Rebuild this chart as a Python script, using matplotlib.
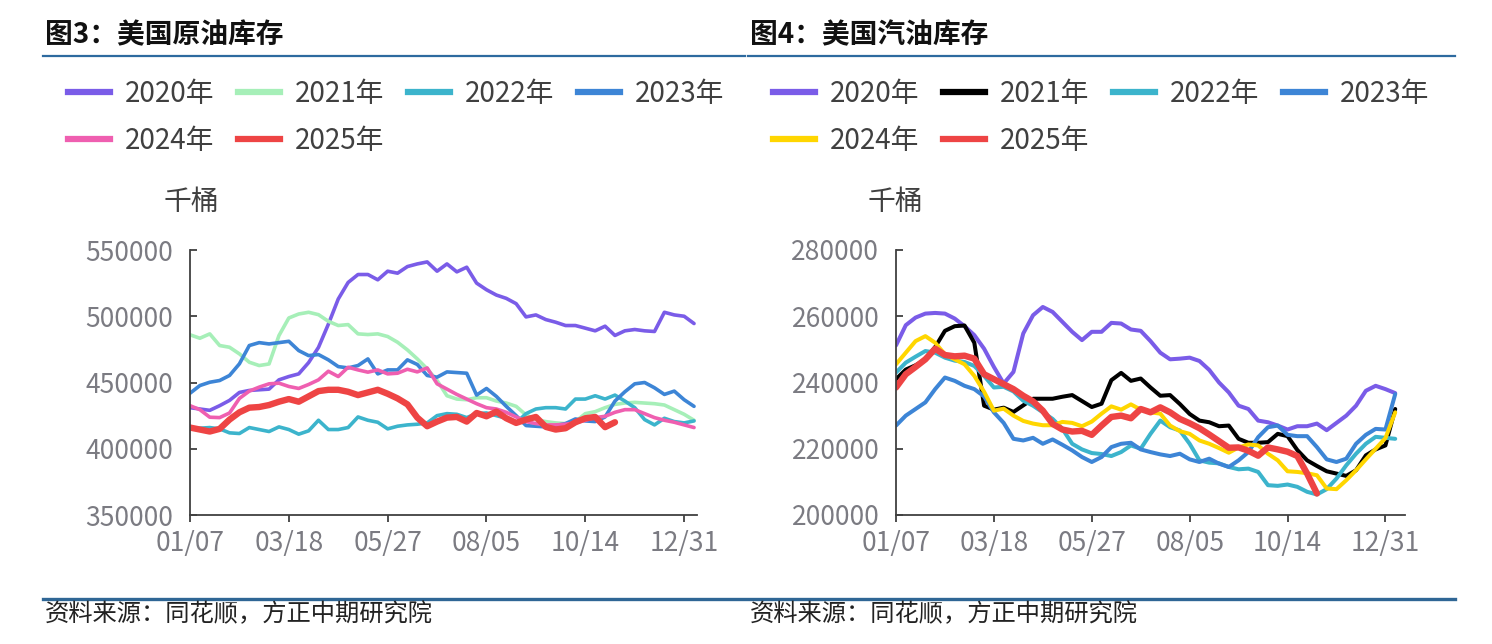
import matplotlib

matplotlib.use("Agg")
import matplotlib.pyplot as plt
from matplotlib.lines import Line2D
import numpy as np

plt.rcParams["font.family"] = ["Noto Sans CJK SC", "DejaVu Sans"]

W, H = 1492, 644

# weekly x axis, ticks every 10 weeks
tick_pos = [0, 10, 20, 30, 40, 50]
tick_labels = ["01/07", "03/18", "05/27", "08/05", "10/14", "12/31"]
years = ["2020年", "2021年", "2022年", "2023年", "2024年", "2025年"]

# ---- 图3 美国原油库存 (千桶) ----
crude_2020 = [431000, 430000, 429000, 432500, 436500, 442500, 444000, 444500, 445000, 452000,
              454500, 456500, 465000, 476500, 494000, 513000, 525500, 531500, 531500, 527500,
              534000, 532500, 537500, 539500, 541000, 534000, 539500, 533500, 537000, 525000,
              520000, 516000, 513500, 509500, 499500, 501000, 497500, 495500, 493000, 493000,
              491000, 489000, 492500, 485500, 489000, 490000, 489000, 488500, 503000, 501000,
              500000, 494500]
crude_2021 = [486000, 483400, 486700, 477900, 476600, 471600, 465300, 462800, 464000, 485400,
              498700, 501700, 503000, 501200, 496200, 493000, 493700, 486700, 486200, 486700,
              484700, 480400, 474600, 467800, 460300, 451500, 440000, 437500, 437000, 438500,
              438500, 436000, 434500, 432000, 425500, 422000, 420500, 419500, 419000, 420500,
              426500, 428000, 431000, 433500, 434500, 435000, 434500, 434000, 433000, 429500,
              426000, 421500]
crude_2022 = [415000, 415500, 416000, 415000, 412000, 411500, 416000, 414500, 413000, 416500,
              414500, 411000, 413500, 421500, 414500, 414500, 416000, 424000, 421500, 420000,
              415000, 417000, 418000, 418500, 419500, 425000, 426500, 426000, 423500, 426500,
              427000, 425000, 423000, 419500, 426500, 430000, 431000, 431000, 430000, 437500,
              437500, 440000, 437500, 440500, 436000, 431000, 422000, 418000, 423000, 420500,
              419500, 421000]
crude_2023 = [441900, 447700, 450200, 451500, 455300, 464100, 477900, 480100, 479100, 480100,
              481100, 474100, 470300, 471100, 467100, 462000, 461000, 462800, 467800, 456500,
              459500, 459500, 467100, 463600, 455300, 454000, 458000, 457500, 457000, 440500,
              445500, 439500, 432000, 425000, 417500, 417000, 416500, 417500, 419000, 422500,
              421000, 420500, 424000, 436000, 443000, 449000, 450000, 446000, 441000, 443500,
              437000, 432000]
crude_2024 = [432500, 429500, 423800, 423500, 427000, 438000, 443500, 446500, 449000, 449500,
              447000, 445500, 448500, 452000, 458500, 454500, 461500, 459500, 457800, 459500,
              456500, 457000, 460000, 458000, 461000, 449000, 445000, 441000, 437500, 434000,
              431000, 430000, 427500, 424000, 420500, 419000, 418000, 418000, 418500, 419500,
              421500, 423500, 424500, 427500, 429500, 429500, 426500, 423500, 421500, 420000,
              418000, 416000]
crude_2025 = [416000, 414500, 413000, 415000, 422000, 427500, 431000, 431500, 433000, 435500,
              437500, 435500, 439500, 443500, 444500, 444500, 443000, 440500, 442500, 444500,
              441500, 438000, 433500, 423500, 417000, 420500, 423500, 424000, 420500, 427000,
              424500, 428000, 423000, 419500, 422000, 424000, 416500, 414500, 415500, 420000,
              423000, 424000, 416300, 420000]

# ---- 图4 美国汽油库存 (千桶) ----
gas_2020 = [251200, 257300, 259600, 260800, 261000, 260800, 259300, 257000, 254300, 250200,
            244700, 239700, 243200, 254800, 260300, 262800, 261300, 258300, 255300, 252800,
            255300, 255300, 258000, 257800, 256000, 255600, 252500, 249000, 247000, 247200,
            247500, 246500, 243800, 240000, 237000, 233000, 232000, 228500, 228000, 227000,
            225800, 226800, 226800, 227600, 225600, 227800, 230000, 233000, 237500, 239000,
            238000, 236800]
gas_2021 = [241000, 243900, 245200, 246900, 250700, 255600, 257000, 257200, 252000, 233000,
            231800, 232400, 231100, 233100, 235100, 235100, 235100, 235700, 236200, 234400,
            232600, 233600, 240700, 242900, 240500, 241200, 238500, 236000, 236200, 233500,
            230500, 228500, 228000, 226800, 227000, 223000, 221800, 221800, 222000, 224500,
            223800, 219600, 216500, 214800, 213200, 212500, 211800, 213500, 218000, 219800,
            221000, 232000]
gas_2022 = [243000, 246000, 247800, 249500, 249000, 247500, 246600, 246200, 245000, 242000,
            238500, 238700, 237300, 234500, 233000, 231000, 229000, 226000, 221500, 219800,
            218700, 218400, 217800, 219000, 221000, 220000, 224500, 228500, 226500, 225500,
            221500, 216500, 215800, 215600, 214500, 213800, 214000, 213000, 209000, 208800,
            209200, 208500, 207000, 206200, 207800, 211000, 215000, 218500, 221500, 223600,
            223300, 223000]
gas_2023 = [227000, 230000, 232000, 234000, 238000, 241500, 240500, 239000, 238000, 235800,
            231000, 227800, 223000, 222500, 223300, 221500, 222800, 221200, 219500, 217500,
            216000, 217500, 220500, 221500, 221800, 219800, 219000, 218300, 217800, 218500,
            216800, 216000, 217000, 215500, 214500, 216500, 219000, 223500, 226500, 227000,
            224200, 223800, 223800, 220500, 216800, 216000, 217000, 221500, 224200, 226000,
            225800, 236500]
gas_2024 = [245500, 249000, 252500, 254000, 252000, 248500, 247000, 245500, 242000, 237200,
            231500, 232100, 230000, 228400, 227600, 227100, 227100, 228100, 227800, 226800,
            228200, 230600, 232800, 231800, 233400, 231800, 231000, 230600, 227000, 225300,
            224500, 222500, 221500, 220200, 218800, 220400, 221300, 221000, 218500, 216500,
            213200, 213000, 212600, 212000, 208000, 207800, 210500, 213500, 216800, 220000,
            223200, 231000]
gas_2025 = [238500, 242500, 244700, 247000, 250200, 248300, 247900, 248100, 247200, 242500,
            241000, 239500, 238000, 236000, 234300, 231500, 227500, 225800, 225200, 225400,
            224200, 227000, 229600, 230000, 229200, 232000, 231000, 232500, 231000, 229000,
            227700, 226200, 224300, 222300, 220300, 220400, 219400, 217900, 220400, 219800,
            219100, 217800, 212500, 206500]

crude_series = [crude_2020, crude_2021, crude_2022, crude_2023, crude_2024, crude_2025]
gas_series = [gas_2020, gas_2021, gas_2022, gas_2023, gas_2024, gas_2025]
crude_colors = ["#7a5ce8", "#a6efb8", "#3cb4cc", "#3d85d6", "#ef5fb0", "#ee4444"]
gas_colors = ["#7a5ce8", "#000000", "#3cb4cc", "#3d85d6", "#ffd600", "#ee4444"]

GRAY_TXT = "#7b7b82"
DARK_TXT = "#404040"
BLUE_RULE = "#2d6a9f"


def px(x, y):
    return x / W, 1 - y / H


def panel(fig, x0, x1, series, colors, lws, ylim, yticks, xmax, hx, title, unit_x):
    ax = fig.add_axes([x0 / W, 1 - 515 / H, (x1 - x0) / W, 265 / H])
    for vals, c, lw in zip(series, colors, lws):
        ax.plot(np.arange(len(vals)), vals, color=c, lw=lw, solid_capstyle="round",
                solid_joinstyle="round")
    ax.set_xlim(0, xmax)
    ax.set_ylim(*ylim)
    ax.set_yticks(yticks)
    ax.set_yticklabels([str(v) for v in yticks])
    ax.set_xticks(tick_pos)
    ax.set_xticklabels(tick_labels)
    for s in ("top", "right"):
        ax.spines[s].set_visible(False)
    for s in ("left", "bottom"):
        ax.spines[s].set_color(DARK_TXT)
        ax.spines[s].set_linewidth(1.3)
    ax.tick_params(axis="y", direction="in", length=5, width=1.3, color=DARK_TXT,
                   labelsize=19, labelcolor=GRAY_TXT, pad=12)
    ax.tick_params(axis="x", direction="out", length=5, width=1.3, color=DARK_TXT,
                   labelsize=19, labelcolor=GRAY_TXT, pad=6)

    # legend: 4 columns, row-major order
    handles = [Line2D([], [], color=c, lw=4.5) for c in colors]
    order = [0, 4, 1, 5, 2, 3]
    fig.legend([handles[i] for i in order], [years[i] for i in order], ncol=4,
               loc="upper left", bbox_to_anchor=px(hx, 79), frameon=False,
               fontsize=20, handlelength=1.5, handletextpad=0.55, columnspacing=0.85,
               labelspacing=0.6, borderpad=0, borderaxespad=0, labelcolor=DARK_TXT)

    fig.text(*px(unit_x, 202), "千桶", fontsize=20, color=DARK_TXT, ha="center", va="center")
    fig.text(*px(hx - 23, 35), title, fontsize=20, fontweight="bold", color="#111111",
             ha="left", va="center")
    fig.text(*px(hx - 23, 614), "资料来源：同花顺，方正中期研究院", fontsize=17.5,
             color="#222222", ha="left", va="center", style="italic")
    return ax


fig = plt.figure(figsize=(W / 100, H / 100), dpi=100)

panel(fig, 190, 697, crude_series, crude_colors, [2.6, 2.6, 2.6, 2.6, 2.6, 4.6],
      (350000, 550000), [350000, 400000, 450000, 500000, 550000], 51.3, 68,
      "图3：美国原油库存", 191)
panel(fig, 896, 1405, gas_series, gas_colors, [2.9, 2.9, 2.9, 2.9, 2.9, 4.6],
      (200000, 280000), [200000, 220000, 240000, 260000, 280000], 52.0, 773,
      "图4：美国汽油库存", 895)

# title rules and bottom rule
fig.add_artist(Line2D([43 / W, 745 / W], [1 - 56 / H] * 2, color=BLUE_RULE, lw=1.6))
fig.add_artist(Line2D([748 / W, 1455 / W], [1 - 56 / H] * 2, color=BLUE_RULE, lw=1.6))
fig.add_artist(Line2D([43 / W, 1455 / W], [1 - 598.5 / H] * 2, color="#2f6695", lw=2.4))

fig.savefig("out.png", dpi=100)
plt.close(fig)
